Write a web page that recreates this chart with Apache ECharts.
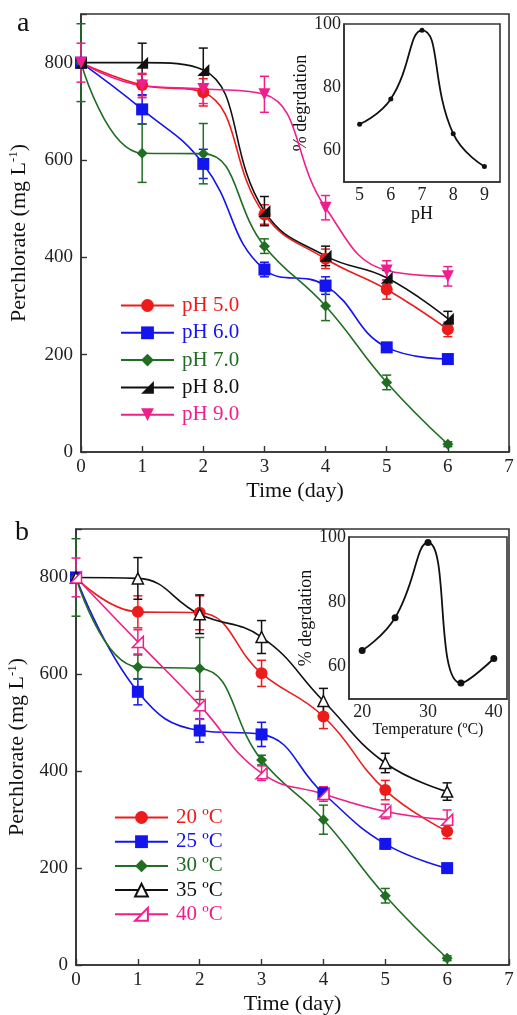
<!DOCTYPE html>
<html><head><meta charset="utf-8">
<script src="https://cdn.jsdelivr.net/npm/echarts@6/dist/echarts.min.js"></script>
<style>html,body{margin:0;padding:0;background:#fff}#c{width:517px;height:1015px}</style>
</head><body><div id="c"></div>
<script>
// ---------- DATA ----------
const days = [0, 1, 2, 3, 4, 5, 6];
const phNames = ['pH 5.0', 'pH 6.0', 'pH 7.0', 'pH 8.0', 'pH 9.0'];
const ph5 = [800, 754, 739, 488, 397, 334, 252];
const ph6 = [800, 704, 592, 375, 342, 215, 191];
const ph7 = [800, 614, 613, 423, 300, 143, 16];
const ph8 = [800, 800, 785, 495, 403, 358, 274];
const ph9 = [800, 753, 746, 735, 502, 373, 361];
const ph5Err = [0, 22, 28, 20, 20, 20, 15];
const ph6Err = [0, 30, 30, 15, 18, 8, 5];
const ph7Err = [80, 60, 62, 15, 30, 15, 5];
const ph8Err = [0, 40, 45, 30, 20, 15, 15];
const ph9Err = [40, 25, 30, 37, 25, 20, 20];
const insetPh = [5, 6, 7, 8, 9];
const insetPhDeg = [68.3, 76.3, 98, 65.3, 54.9];

const tNames = ['20 \u00baC', '25 \u00baC', '30 \u00baC', '35 \u00baC', '40 \u00baC'];
const t20 = [800, 729, 727, 602, 513, 361, 276];
const t25 = [800, 564, 484, 476, 354, 250, 200];
const t30 = [800, 615, 612, 423, 300, 143, 14];
const t35 = [800, 798, 724, 677, 545, 417, 358];
const t40 = [800, 667, 536, 396, 353, 317, 300];
const t20Err = [0, 33, 35, 27, 25, 20, 15];
const t25Err = [0, 27, 24, 25, 12, 10, 5];
const t30Err = [80, 25, 64, 10, 30, 15, 5];
const t35Err = [0, 43, 40, 34, 26, 20, 18];
const t40Err = [40, 25, 29, 15, 15, 15, 20];
const insetTemp = [20, 25, 30, 35, 40];
const insetTempDeg = [65, 75.1, 98.3, 54.9, 62.5];

// ---------- STYLE ----------
const RED = '#ec1c1c', BLUE = '#1414ee', GREEN = '#1f6e22', BLACK = '#111111', PINK = '#f01e8c';
const FONT = 'Liberation Serif';
const AX = '#333';
const rightTri = 'path://M10,0 L10,10 L0,10 Z';
const downTri = 'path://M0,0 L10,0 L5,10 Z';

function pairs(xs, ys) { return xs.map((x, i) => [x, ys[i]]); }
function errData(xs, ys, es) { return xs.map((x, i) => [x, ys[i], es[i]]); }

function lineSeries(name, ys, color, symbol, size, gi, hollow) {
  return {
    type: 'line', name, xAxisIndex: gi, yAxisIndex: gi,
    data: pairs(days, ys), smooth: 0.45, symbol, symbolSize: size,
    lineStyle: { color, width: 1.6 },
    itemStyle: hollow ? { color: '#fff', borderColor: color, borderWidth: 1.5 } : { color },
    z: 5
  };
}
function errSeries(ys, es, color, gi) {
  return {
    type: 'custom', xAxisIndex: gi, yAxisIndex: gi, z: 3,
    data: errData(days, ys, es), encode: { x: 0, y: 1 },
    renderItem: function (params, api) {
      const x = api.value(0), y = api.value(1), e = api.value(2);
      if (!e) return;
      const t = api.coord([x, y + e]), b = api.coord([x, y - e]);
      const w = 4.5;
      const st = { stroke: color, lineWidth: 1.5, fill: null };
      return { type: 'group', children: [
        { type: 'line', shape: { x1: t[0], y1: t[1], x2: b[0], y2: b[1] }, style: st },
        { type: 'line', shape: { x1: t[0] - w, y1: t[1], x2: t[0] + w, y2: t[1] }, style: st },
        { type: 'line', shape: { x1: b[0] - w, y1: b[1], x2: b[0] + w, y2: b[1] }, style: st }
      ] };
    }
  };
}

function mainX(gi) {
  return {
    gridIndex: gi, type: 'value', min: 0, max: 7, interval: 1,
    name: 'Time (day)', nameLocation: 'middle', nameGap: 28,
    nameTextStyle: { fontFamily: FONT, fontSize: 22, color: '#111' },
    axisLine: { lineStyle: { color: AX, width: 1.6 } },
    axisTick: { inside: true, length: 6, lineStyle: { color: AX, width: 1.4 } },
    axisLabel: { fontFamily: FONT, fontSize: 19, color: '#222', margin: 6 },
    splitLine: { show: false }
  };
}
function mainY(gi, gap) {
  return {
    gridIndex: gi, type: 'value', min: 0, max: 900, interval: 200,
    name: 'Perchlorate (mg L{s|-1})', nameLocation: 'middle', nameGap: gap,
    nameTextStyle: { fontFamily: FONT, fontSize: 22, color: '#111',
      rich: { s: { fontFamily: FONT, fontSize: 13, color: '#111', padding: [0, 0, 11, 0] } } },
    axisLine: { lineStyle: { color: AX, width: 1.6 } },
    axisTick: { inside: true, length: 6, lineStyle: { color: AX, width: 1.4 } },
    axisLabel: { fontFamily: FONT, fontSize: 19, color: '#222', margin: 8,
      formatter: v => (v % 200 === 0 ? String(v) : '') },
    splitLine: { show: false }
  };
}

const series = [
  errSeries(ph5, ph5Err, RED, 0), errSeries(ph6, ph6Err, BLUE, 0), errSeries(ph7, ph7Err, GREEN, 0),
  errSeries(ph8, ph8Err, BLACK, 0), errSeries(ph9, ph9Err, PINK, 0),
  lineSeries(phNames[0], ph5, RED, 'circle', 12, 0),
  lineSeries(phNames[1], ph6, BLUE, 'rect', 12, 0),
  lineSeries(phNames[2], ph7, GREEN, 'diamond', 11, 0),
  lineSeries(phNames[3], ph8, BLACK, rightTri, 12, 0),
  lineSeries(phNames[4], ph9, PINK, downTri, 12, 0),
  {
    type: 'line', xAxisIndex: 1, yAxisIndex: 1, data: pairs(insetPh, insetPhDeg),
    smooth: 0.5, symbol: 'circle', symbolSize: 5, lineStyle: { color: BLACK, width: 1.8 },
    itemStyle: { color: BLACK }, z: 5
  },
  errSeries(t20, t20Err, RED, 2), errSeries(t25, t25Err, BLUE, 2), errSeries(t30, t30Err, GREEN, 2),
  errSeries(t35, t35Err, BLACK, 2), errSeries(t40, t40Err, PINK, 2),
  lineSeries(tNames[0], t20, RED, 'circle', 12, 2),
  lineSeries(tNames[1], t25, BLUE, 'rect', 12, 2),
  lineSeries(tNames[2], t30, GREEN, 'diamond', 11, 2),
  lineSeries(tNames[3], t35, BLACK, 'triangle', 11, 2, true),
  lineSeries(tNames[4], t40, PINK, rightTri, 11, 2, true),
  {
    type: 'line', xAxisIndex: 3, yAxisIndex: 3, data: pairs(insetTemp, insetTempDeg),
    smooth: 0.5, symbol: 'circle', symbolSize: 7, lineStyle: { color: BLACK, width: 1.8 },
    itemStyle: { color: BLACK }, z: 5
  }
];

function insetX(gi, min, max, interval, name, step, gap, nameSize) {
  return {
    gridIndex: gi, type: 'value', min, max, interval,
    name, nameLocation: 'middle', nameGap: gap,
    nameTextStyle: { fontFamily: FONT, fontSize: nameSize, color: '#111' },
    axisLine: { lineStyle: { color: AX, width: 1.6 } },
    axisTick: { show: false },
    axisLabel: { fontFamily: FONT, fontSize: 18, color: '#222', margin: 4,
      formatter: v => (Math.abs(v % step) < 1e-9 ? String(v) : '') },
    splitLine: { show: false }
  };
}
function insetY(gi) {
  return {
    gridIndex: gi, type: 'value', min: 50, max: 100, interval: 10,
    name: '% degrdation', nameLocation: 'middle', nameGap: 27,
    nameTextStyle: { fontFamily: FONT, fontSize: 18, color: '#111' },
    axisLine: { lineStyle: { color: AX, width: 1.6 } },
    axisTick: { show: false },
    axisLabel: { fontFamily: FONT, fontSize: 18, color: '#222', margin: 3,
      formatter: v => (v % 20 === 0 ? String(v) : '') },
    splitLine: { show: false }
  };
}

function legend(names, colors, left, top, gap) {
  return {
    orient: 'vertical', left, top, itemWidth: 53, itemHeight: 16, itemGap: gap,
    textStyle: { fontFamily: FONT, fontSize: 21, padding: [0, 0, 0, 3] }, selectedMode: false,
    data: names.map((n, i) => ({ name: n, textStyle: { color: colors[i] } }))
  };
}
const colors = [RED, BLUE, GREEN, BLACK, PINK];
const gridBase = { show: true, borderColor: AX, borderWidth: 1.6, outerBoundsMode: 'none', containLabel: false };

const option = {
  animation: false,
  backgroundColor: '#fff',
  grid: [
    Object.assign({ left: 81, top: 14, width: 428, height: 438, backgroundColor: 'transparent' }, gridBase),
    Object.assign({ left: 344, top: 24, width: 156, height: 158, backgroundColor: '#fff' }, gridBase),
    Object.assign({ left: 76, top: 529, width: 433, height: 436, backgroundColor: 'transparent' }, gridBase),
    Object.assign({ left: 349, top: 537, width: 158, height: 162, backgroundColor: '#fff' }, gridBase)
  ],
  xAxis: [mainX(0), insetX(1, 4.5, 9.5, 0.5, 'pH', 1, 20, 18), mainX(2), insetX(3, 18, 42, 2, 'Temperature (\u00baC)', 10, 18, 16)],
  yAxis: [mainY(0, 50), insetY(1), mainY(2, 46), insetY(3)],
  legend: [legend(phNames, colors, 115, 290, 6.3), legend(tNames, colors, 109, 802, 3.2)],
  graphic: [
    { type: 'text', left: 17, top: 10, style: { text: 'a', fontFamily: FONT, fontSize: 28, fill: '#111' } },
    { type: 'text', left: 15, top: 519, style: { text: 'b', fontFamily: FONT, fontSize: 28, fill: '#111' } }
  ],
  series
};
echarts.init(document.getElementById('c'), null, { renderer: 'canvas' }).setOption(option);
</script></body></html>
